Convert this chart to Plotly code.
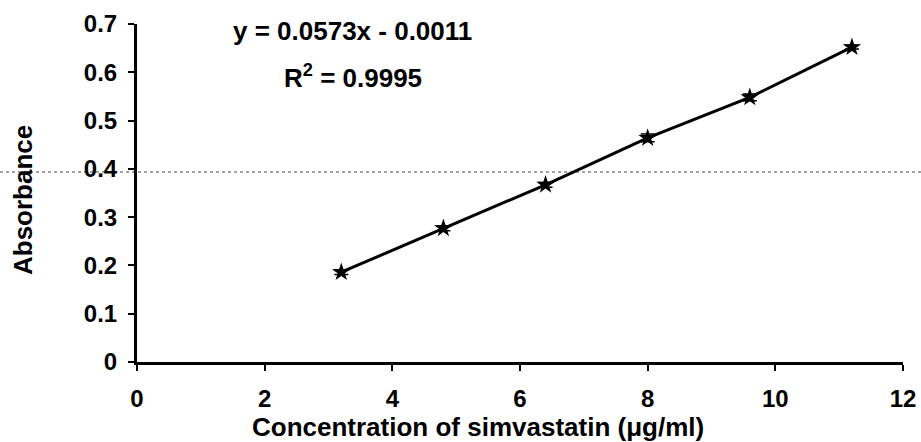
import plotly.graph_objects as go

concentration = [3.2, 4.8, 6.4, 8.0, 9.6, 11.2]
absorbance = [0.186, 0.277, 0.367, 0.464, 0.548, 0.652]
abs_err = [0.005, 0.005, 0.005, 0.008, 0.007, 0.004]

x_ticks = [0, 2, 4, 6, 8, 10, 12]
y_ticks = [0, 0.1, 0.2, 0.3, 0.4, 0.5, 0.6, 0.7]
y_tick_labels = ["0", "0.1", "0.2", "0.3", "0.4", "0.5", "0.6", "0.7"]

x_title = "Concentration of simvastatin (μg/ml)"
y_title = "Absorbance"
equation_text = "y = 0.0573x - 0.0011"
r2_text = "R<sup>2</sup> = 0.9995"

FONT = "Liberation Sans, Arial, sans-serif"
W, H = 921, 442
# plot area in page pixels: x 137..903, y 24..362
L, T = 137, 24
R = W - 903
B = H - 362
pw = W - L - R
ph = H - T - B


def px2paper(sx, sy):
    return (sx - L) / pw, 1 - (sy - T) / ph


fig = go.Figure()
fig.add_trace(go.Scatter(
    x=concentration, y=absorbance, mode="lines+markers",
    line=dict(color="black", width=3),
    marker=dict(symbol="star", size=14, color="black"),
    error_y=dict(type="data", array=abs_err, visible=True, color="black",
                 thickness=1.5, width=7),
    showlegend=False,
))

axis_common = dict(
    showgrid=False, zeroline=False, showline=True, linecolor="black", linewidth=3,
    ticks="outside", ticklen=6, tickwidth=2, tickcolor="black",
    tickfont=dict(family=FONT, size=24, color="black", weight="bold"),
    automargin=False,
)

fig.update_layout(
    width=W, height=H,
    margin=dict(l=L, r=R, t=T, b=B),
    plot_bgcolor="white", paper_bgcolor="white",
    font=dict(family=FONT, size=24, color="black"),
    xaxis=dict(range=[0, 12], tickmode="array", tickvals=x_ticks,
               ticklabelstandoff=7, **axis_common),
    yaxis=dict(range=[0, 0.7], tickmode="array", tickvals=y_ticks, ticktext=y_tick_labels,
               ticklabelstandoff=6, **axis_common),
)

annots = [
    (equation_text, 352, 31, 0, 26),
    (r2_text, 353, 76, 0, 26),
    (x_title, 478, 427, 0, 26),
    (y_title, 23, 200, -90, 26),
]
for text, sx, sy, ang, size in annots:
    ax, ay = px2paper(sx, sy)
    fig.add_annotation(text="<b>" + text + "</b>", x=ax, y=ay, xref="paper", yref="paper",
                       xanchor="center", yanchor="middle", textangle=ang,
                       showarrow=False, font=dict(family=FONT, size=size, color="black"))

# scan artifact: thin dotted horizontal line across the page
_, ly = px2paper(0, 172)
fig.add_shape(type="line", xref="paper", yref="paper",
              x0=-L / pw, x1=(W - L) / pw, y0=ly, y1=ly,
              line=dict(color="#444444", width=1, dash="dot"), layer="below")

fig.write_html("out.html", config={"displayModeBar": False},
               post_script="document.body.style.margin='0';document.body.style.overflow='hidden';")
